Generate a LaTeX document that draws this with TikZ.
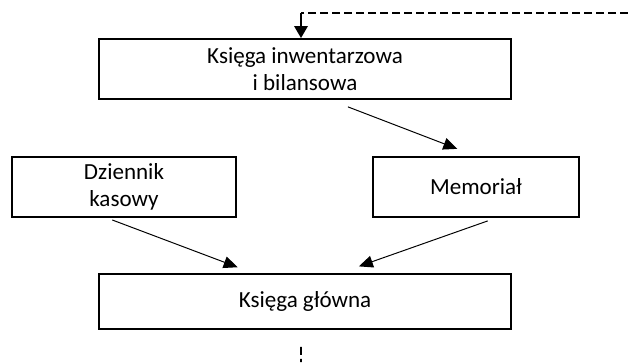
\documentclass[tikz,border=0pt]{standalone}
\usepackage{fontspec}
\setmainfont{Carlito}
\usetikzlibrary{positioning, arrows.meta}
\begin{document}
\begin{tikzpicture}
\tikzstyle{box}=[rectangle, draw=black, line width=1.4pt, align=center, minimum height=15mm, inner sep=0pt, font=\fontsize{16.4pt}{19.2pt}\selectfont]
\tikzstyle{connect}=[-{Triangle[length=3.5mm,width=3mm]}, line width=0.7pt]
\tikzstyle{feedback}=[dash pattern=on 2mm off 1mm, line width=1.1pt]
\tikzstyle{fbarrow}=[-{Triangle[length=3mm,width=3.4mm]}, line width=1.1pt]
\useasboundingbox (0,0) rectangle (15.7,-9.05);
% 2. Nodes
%%%%%%%%%%
\node[box, minimum width=103mm] (ksiega) at (7.625,-1.725) {Księga inwentarzowa\\i bilansowa};
\node[box, minimum width=56mm] (dziennik) at (3.1,-4.675) {Dziennik\\kasowy};
\node[box, minimum width=51.5mm] (memorial) at (11.9,-4.675) {Memoriał};
\node[box, minimum width=103mm, minimum height=13.75mm] (glowna) at (7.625,-7.5375) {Księga główna};

\coordinate (fbin) at (15.7,-0.325);
\coordinate (fbcorner) at (7.525,-0.325);
\coordinate (fbout) at (7.525,-9.05);
% 3. Arrows
%%%%%%%%%%%
\path ([xshift=6.25mm]ksiega.south)   edge [connect, shorten <=4.8mm, shorten >=5mm] (memorial.north)
      ([xshift=-4.25mm]dziennik.south) edge [connect, shorten <=1.4mm, shorten >=4.1mm] ([xshift=-13mm]glowna.north)
      ([xshift=5mm]memorial.south)    edge [connect, shorten <=2.2mm, shorten >=5mm] ([xshift=8.75mm]glowna.north);

\draw[feedback] (fbin) -- (fbcorner);
\draw[fbarrow] (fbcorner) -- ([xshift=-1mm]ksiega.north);
\draw[feedback] ([xshift=-1mm, yshift=-4.25mm]glowna.south) -- (fbout);

\end{tikzpicture}
\end{document}
